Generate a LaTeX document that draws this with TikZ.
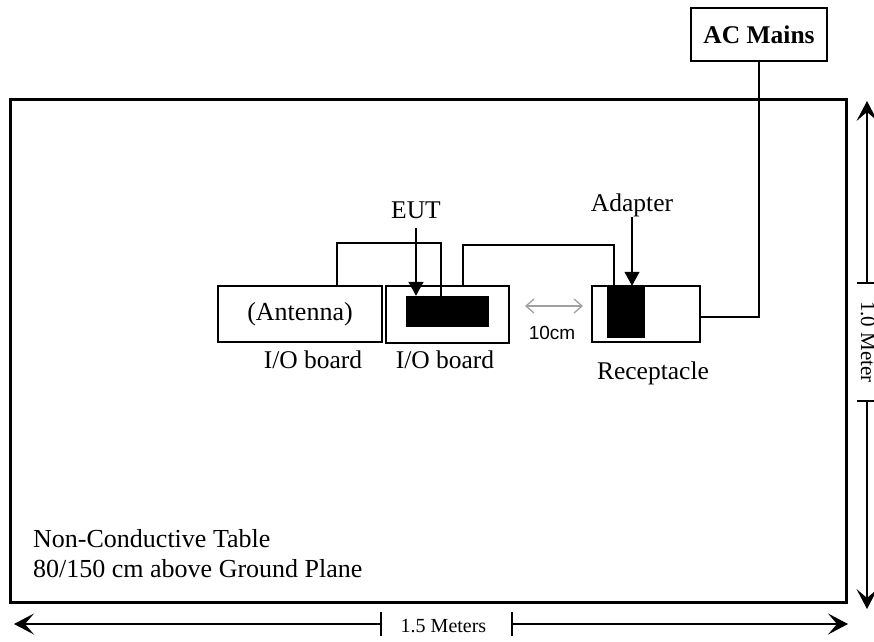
\documentclass[tikz,border=0pt]{standalone}
\usepackage{fontspec}
\setmainfont{Liberation Serif}
\newfontfamily\arialfont{Liberation Sans}
\usetikzlibrary{arrows.meta}
\definecolor{dimgray}{HTML}{A0A0A0}
\tikzset{
  box/.style={draw, line width=1.5pt, inner sep=0pt, fill=white},
  blk/.style={draw, fill=black, inner sep=0pt, line width=0.5pt},
  wire/.style={line width=1.3pt},
  lbl/.style={inner sep=0pt, anchor=base, font=\fontsize{25.5}{30}\selectfont},
  ptr/.style={line width=1.3pt, -{Triangle[length=14pt,width=15pt]}},
  dimline/.style={line width=1.3pt, -{Stealth[length=20pt,width=21pt,inset=9pt]}},
  tickline/.style={line width=1.3pt},
  gap/.style={line width=1.3pt, draw=dimgray, {Straight Barb[length=8pt,width=14pt]}-{Straight Barb[length=8pt,width=14pt]}}
}
\begin{document}
\begin{tikzpicture}[x=1pt,y=-1pt]
\useasboundingbox (0,0) rectangle (874,641);
% table
\node[box, line width=3pt, minimum width=836pt, minimum height=503pt] (table) at (428,350.5) {};
% AC mains
\node[box, minimum width=136pt, minimum height=53pt, font=\bfseries\fontsize{25.5}{30}\selectfont] (ac) at (759,34.5) {AC Mains};
% boxes
\node[box, minimum width=164pt, minimum height=56pt, font=\fontsize{26}{30}\selectfont] (ant) at (300,314) {(Antenna)};
\node[box, minimum width=123pt, minimum height=57pt] (eutb) at (447.5,314.5) {};
\node[blk, minimum width=82pt, minimum height=30pt] (eut) at (447,311) {};
\node[box, minimum width=108pt, minimum height=56pt] (rec) at (646,314) {};
\node[blk, minimum width=37pt, minimum height=51pt] (adp) at (625.5,311.5) {};
% labels
\node[lbl] (eutlbl) at (416,218) {EUT};
\node[lbl] (adplbl) at (632,211) {Adapter};
\node[lbl] (io1) at (313,368) {I/O board};
\node[lbl] (io2) at (445,368) {I/O board};
\node[lbl] (reclbl) at (653,379) {Receptacle};
\node[inner sep=0pt, anchor=base, font=\arialfont\fontsize{19}{22}\selectfont] (cm) at (552,339) {10cm};
\node[inner sep=0pt, anchor=base west, font=\fontsize{26}{30}\selectfont] (t1) at (33,547) {Non-Conductive Table};
\node[inner sep=0pt, anchor=base west, font=\fontsize{26}{30}\selectfont] (t2) at (33,577) {80/150 cm above Ground Plane};
% pointers
\coordinate (eutp) at (416,228);
\coordinate (adpp) at (632,217);
\draw[ptr] (eutp) -- (eutp |- eut.north);
\draw[ptr] (adpp) -- (adpp |- adp.north);
% wires
\draw[wire] (337,0 |- ant.north) |- (441,243) -- (441,0 |- eut.north);
\draw[wire] (463,0 |- eutb.north) |- (614,245) -- (614,0 |- adp.north);
\draw[wire] (ac.south) |- (rec.east |- 0,317);
% gap arrow
\coordinate (g1) at (525,306);
\coordinate (g2) at (583,306);
\draw[gap] (g1) -- (g2);
% horizontal dimension
\coordinate (hl) at (14,624);
\coordinate (ht1) at (381,624);
\coordinate (ht2) at (512,624);
\coordinate (hr) at (848,624);
\draw[dimline] (ht1) -- (hl);
\draw[dimline] (ht2) -- (hr);
\draw[tickline] ([yshift=12pt]ht1) -- ([yshift=-12pt]ht1);
\draw[tickline] ([yshift=12pt]ht2) -- ([yshift=-12pt]ht2);
\node[inner sep=0pt, anchor=base, font=\fontsize{20}{24}\selectfont] (hlbl) at (443.5,632) {1.5 Meters};
% vertical dimension
\coordinate (vt) at (867,101);
\coordinate (vt1) at (867,283);
\coordinate (vt2) at (867,401);
\coordinate (vb) at (867,609);
\draw[dimline] (vt1) -- (vt);
\draw[dimline] (vt2) -- (vb);
\draw[tickline] ([xshift=-10pt]vt1) -- ([xshift=10pt]vt1);
\draw[tickline] ([xshift=-10pt]vt2) -- ([xshift=10pt]vt2);
\node[inner sep=0pt, anchor=base, rotate=-90, font=\fontsize{21}{24}\selectfont] (vlbl) at (861,342) {1.0 Meter};
\end{tikzpicture}
\end{document}
